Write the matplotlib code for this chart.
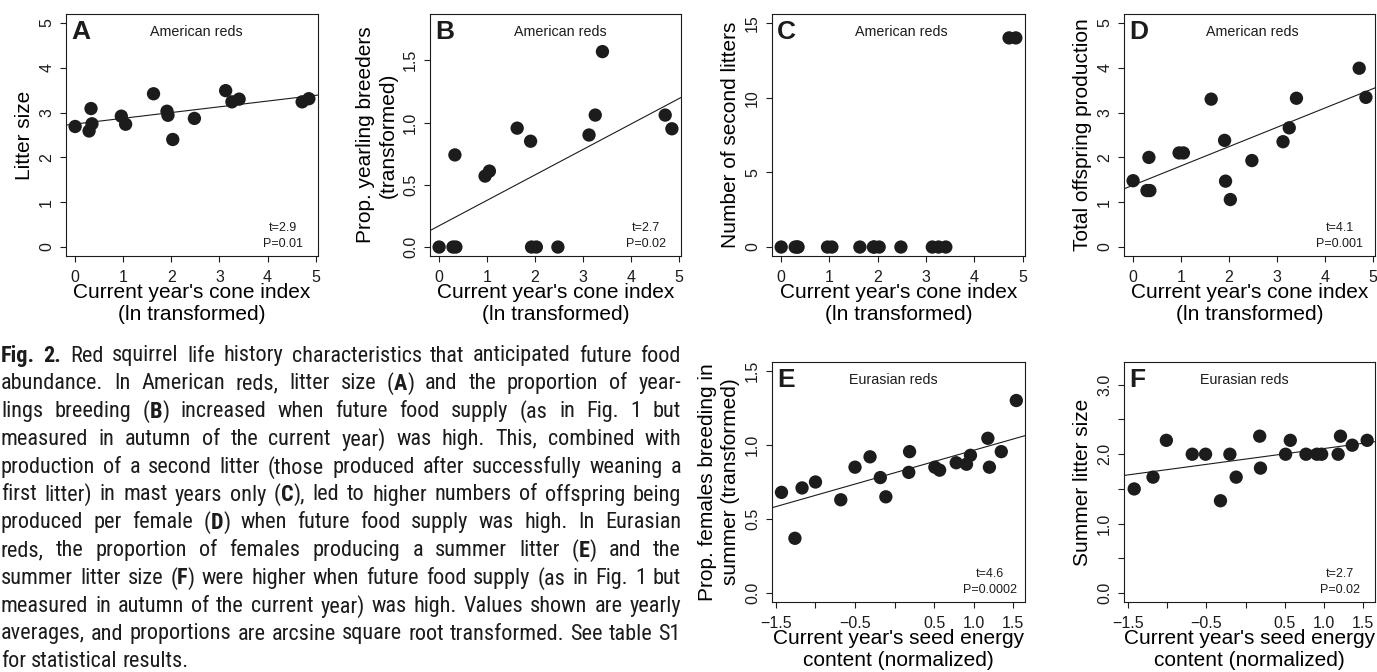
import matplotlib
matplotlib.use("Agg")
import matplotlib.pyplot as plt
from matplotlib import font_manager

# ---------------- data ----------------
cone_index = [0.00, 0.29, 0.33, 0.35, 0.96, 1.05, 1.63, 1.91, 1.93, 2.03,
              2.48, 3.13, 3.26, 3.41, 4.72, 4.86]
litter_size = [2.69, 2.59, 3.09, 2.75, 2.92, 2.74, 3.42, 3.03, 2.94, 2.40,
               2.87, 3.49, 3.24, 3.30, 3.24, 3.31]
yearling_breeders = [0.00, 0.00, 0.74, 0.00, 0.57, 0.61, 0.955, 0.85, 0.00, 0.00,
                     0.00, 0.90, 1.06, 1.57, 1.06, 0.95]
second_litters = [0, 0, 0, 0, 0, 0, 0, 0, 0, 0, 0, 0, 0, 0, 14, 14]
total_offspring = [1.48, 1.26, 2.00, 1.26, 2.10, 2.10, 3.30, 2.38, 1.47, 1.06,
                   1.93, 2.35, 2.66, 3.32, 3.99, 3.34]

seed_energy_E = [-1.43, -1.26, -1.17, -1.00, -0.68, -0.50, -0.31, -0.18, -0.11, 0.18,
                 0.19, 0.51, 0.57, 0.78, 0.91, 0.96, 1.18, 1.20, 1.35, 1.54]
females_summer = [0.68, 0.37, 0.71, 0.75, 0.63, 0.85, 0.92, 0.78, 0.65, 0.815,
                  0.955, 0.85, 0.83, 0.88, 0.87, 0.93, 1.045, 0.85, 0.955, 1.30]
seed_energy_F = [-1.42, -1.18, -1.01, -0.68, -0.51, -0.32, -0.20, -0.12, 0.18, 0.19,
                 0.51, 0.57, 0.77, 0.91, 0.97, 1.18, 1.21, 1.36, 1.55]
summer_litter = [1.50, 1.67, 2.20, 2.00, 2.00, 1.33, 2.00, 1.67, 2.26, 1.80,
                 2.00, 2.20, 2.00, 2.00, 2.00, 2.00, 2.26, 2.13, 2.20]

# regression lines (intercept, slope)
fit_A = (2.745, 0.128)
fit_B = (0.171, 0.204)
fit_D = (1.38, 0.43)
fit_E = (0.812, 0.152)
fit_F = (1.93, 0.152)

stats_A = "t=2.9\nP=0.01"
stats_B = "t=2.7\nP=0.02"
stats_D = "t=4.1\nP=0.001"
stats_E = "t=4.6\nP=0.0002"
stats_F = "t=2.7\nP=0.02"

cone_ticks = [0, 1, 2, 3, 4, 5]
cone_ticklabels = ["0", "1", "2", "3", "4", "5"]
seed_ticks = [-1.5, -1.0, -0.5, 0.0, 0.5, 1.0, 1.5]
seed_ticklabels = ["\u22121.5", "", "\u22120.5", "", "0.5", "1.0", "1.5"]
ticks_A = [0, 1, 2, 3, 4, 5]
labels_A = ["0", "1", "2", "3", "4", "5"]
ticks_B = [0.0, 0.5, 1.0, 1.5]
labels_B = ["0.0", "0.5", "1.0", "1.5"]
ticks_C = [0, 5, 10, 15]
labels_C = ["0", "5", "10", "15"]
ticks_E = [0.0, 0.5, 1.0, 1.5]
labels_E = ["0.0", "0.5", "1.0", "1.5"]
ticks_F = [0.0, 0.5, 1.0, 1.5, 2.0, 2.5, 3.0]
labels_F = ["0.0", "", "1.0", "", "2.0", "", "3.0"]

caption_lines = [
    "**Fig. 2.** Red squirrel life history characteristics that anticipated future food",
    "abundance. In American reds, litter size (**A**) and the proportion of year-",
    "lings breeding (**B**) increased when future food supply (as in Fig. 1 but",
    "measured in autumn of the current year) was high. This, combined with",
    "production of a second litter (those produced after successfully weaning a",
    "first litter) in mast years only (**C**), led to higher numbers of offspring being",
    "produced per female (**D**) when future food supply was high. In Eurasian",
    "reds, the proportion of females producing a summer litter (**E**) and the",
    "summer litter size (**F**) were higher when future food supply (as in Fig. 1 but",
    "measured in autumn of the current year) was high. Values shown are yearly",
    "averages, and proportions are arcsine square root transformed. See table S1",
    "for statistical results.",
]

# ---------------- styling ----------------
W, H = 1377, 672
DPI = 100
INK = "#1c1c1c"
plt.rcParams["font.family"] = ["Liberation Sans", "DejaVu Sans"]
plt.rcParams["text.color"] = INK
plt.rcParams["axes.edgecolor"] = INK
plt.rcParams["xtick.color"] = INK
plt.rcParams["ytick.color"] = INK

fig = plt.figure(figsize=(W / DPI, H / DPI), dpi=DPI)
fig.patch.set_facecolor("white")


def add_axes_px(l, t, r, b):
    return fig.add_axes([l / W, 1 - b / H, (r - l) / W, (b - t) / H])


def panel(box, x, y, fit, xlim, ylim, xticks, xticklabels, yticks, yticklabels,
          letter, group, stats, xlabel, ylabel, group_x=0.51):
    ax = add_axes_px(*box)
    ax.scatter(x, y, s=92, color=INK, edgecolors="none", zorder=3)
    if fit is not None:
        ax.axline((0, fit[0]), slope=fit[1], color=INK, lw=0.8, zorder=2)
    ax.set_xlim(*xlim)
    ax.set_ylim(*ylim)
    ax.set_xticks(xticks)
    ax.set_xticklabels(xticklabels)
    ax.set_yticks(yticks)
    ax.set_yticklabels(yticklabels, rotation=90, va="center")
    ax.tick_params(direction="out", length=4.5, width=0.8, labelsize=11.5, pad=4)
    ax.tick_params(axis="x", pad=5.5)
    for sp in ax.spines.values():
        sp.set_linewidth(0.8)
    ax.text(0.02, 0.925, letter, transform=ax.transAxes, fontsize=19,
            fontweight="bold", ha="left", va="center")
    ax.text(group_x, 0.925, group, transform=ax.transAxes, fontsize=10.3,
            ha="center", va="center")
    if stats:
        ax.text(0.86, 0.025, stats, transform=ax.transAxes, fontsize=9,
                ha="center", va="bottom", linespacing=1.4)
    ax.set_xlabel(xlabel, fontsize=15, labelpad=-1, linespacing=1.2)
    ax.set_ylabel(ylabel, fontsize=15, labelpad=4, linespacing=1.25)
    return ax


xl_cone = "Current year's cone index\n(ln transformed)"
xl_seed = "Current year's seed energy\ncontent (normalized)"
cone_xlim = (-0.19, 5.05)
seed_xlim = (-1.55, 1.65)

panel((66, 14, 318, 256), cone_index, litter_size, fit_A, cone_xlim, (-0.2, 5.2),
      cone_ticks, cone_ticklabels, ticks_A, labels_A, "A", "American reds", stats_A,
      xl_cone, "Litter size", 0.516)
panel((430, 14, 681, 256), cone_index, yearling_breeders, fit_B, cone_xlim, (-0.072, 1.872),
      cone_ticks, cone_ticklabels, ticks_B, labels_B, "B", "American reds", stats_B,
      xl_cone, "Prop. yearling breeders\n(transformed)", 0.52)
panel((772, 14, 1025, 256), cone_index, second_litters, None, cone_xlim, (-0.6, 15.6),
      cone_ticks, cone_ticklabels, ticks_C, labels_C, "C", "American reds", None,
      xl_cone, "Number of second litters", 0.51)
panel((1124, 14, 1375, 256), cone_index, total_offspring, fit_D, cone_xlim, (-0.2, 5.2),
      cone_ticks, cone_ticklabels, ticks_A, labels_A, "D", "American reds", stats_D,
      xl_cone, "Total offspring production", 0.51)
panel((772, 362, 1025, 602), seed_energy_E, females_summer, fit_E, seed_xlim, (-0.06, 1.56),
      seed_ticks, seed_ticklabels, ticks_E, labels_E, "E", "Eurasian reds", stats_E,
      xl_seed, "Prop. females breeding in\nsummer (transformed)", 0.48)
panel((1124, 362, 1375, 602), seed_energy_F, summer_litter, fit_F, seed_xlim, (-0.128, 3.328),
      seed_ticks, seed_ticklabels, ticks_F, labels_F, "F", "Eurasian reds", stats_F,
      xl_seed, "Summer litter size", 0.48)

# ---------------- caption (justified, word by word) ----------------
installed = {f.name for f in font_manager.fontManager.ttflist}
cap_family = "Liberation Sans"
for cand in ["Liberation Sans Narrow", "Roboto Condensed", "Open Sans Condensed",
             "DejaVu Sans Condensed", "Noto Sans Condensed", "Liberation Sans"]:
    if cand in installed:
        cap_family = cand
        break

renderer = fig.canvas.get_renderer()


def parse_line(line):
    words = []
    bold = False
    for raw in line.split(" "):
        pieces = []
        parts = raw.split("**")
        for j, p in enumerate(parts):
            if j > 0:
                bold = not bold
            if p:
                pieces.append((p, bold))
        words.append(pieces)
    return words


def measure(txt, bold, size):
    t = fig.text(0, 0, txt, fontsize=size, family=cap_family,
                 fontweight="bold" if bold else "normal")
    w = t.get_window_extent(renderer).width
    t.remove()
    return w


parsed = [parse_line(l) for l in caption_lines]
X0, X1 = 1.0, 681.0
target = X1 - X0

size = 14.0
for _ in range(4):
    sp = measure("a a", False, size) - 2 * measure("a", False, size)
    widest = 0
    for words in parsed[:-1]:
        ww = sum(measure(p, b, size) for pcs in words for p, b in pcs)
        widest = max(widest, ww + sp * 0.9 * (len(words) - 1))
    size = size * target / widest
size = min(size, 16.0)

space_w = measure("a a", False, size) - 2 * measure("a", False, size)
y0, dy = 356.0, 27.8
for i, words in enumerate(parsed):
    widths = [[measure(p, b, size) for p, b in pcs] for pcs in words]
    total = sum(sum(w) for w in widths)
    if i < len(parsed) - 1 and len(words) > 1:
        gap = (target - total) / (len(words) - 1)
    else:
        gap = space_w
    x = X0
    y = y0 + i * dy
    for pcs, wl in zip(words, widths):
        for (p, b), w in zip(pcs, wl):
            fig.text(x / W, 1 - y / H, p, fontsize=size, family=cap_family,
                     fontweight="bold" if b else "normal", ha="left", va="center")
            x += w
        x += gap

fig.savefig("out.png", dpi=DPI, facecolor="white")
